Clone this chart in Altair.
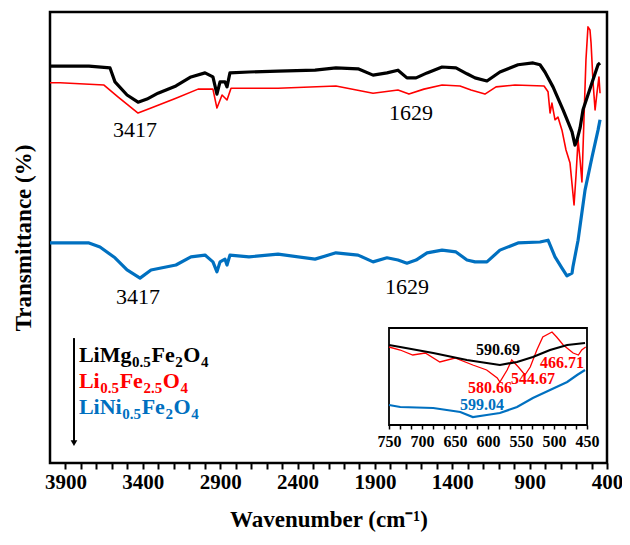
import altair as alt
import pandas as pd

# ---------------- main spectra (wavenumber cm-1, transmittance a.u.) ----------------
mg_wn = [4000, 3935, 3748, 3612, 3580, 3502, 3431, 3373, 3302, 3186, 3089, 2998, 2947, 2921, 2901,
         2869, 2856, 2837, 2714, 2526, 2287, 2152, 2009, 1912, 1822, 1751, 1693, 1634, 1563, 1466,
         1376, 1305, 1253, 1176, 1092, 975, 878, 833, 801, 749, 684, 626, 607, 594, 574, 555, 497,
         458, 445]
mg_t = [88.0, 88.0, 88.0, 87.6, 84.5, 81.6, 80.0, 80.7, 82.0, 83.6, 85.6, 86.5, 85.6, 81.8, 84.5,
        84.5, 83.4, 86.5, 86.7, 86.9, 87.1, 87.6, 87.4, 86.0, 86.5, 87.1, 85.4, 85.4, 86.5, 87.8,
        87.6, 86.3, 85.4, 84.7, 86.7, 88.3, 88.7, 88.3, 86.7, 83.4, 78.3, 73.4, 70.5, 71.6, 74.3,
        78.3, 84.3, 88.3, 88.7]

li_wn = [4000, 3935, 3651, 3561, 3431, 3347, 3186, 3043, 2947, 2921, 2888, 2856, 2830, 2526, 2152,
         1912, 1751, 1680, 1583, 1466, 1350, 1279, 1189, 1117, 995, 807, 781, 768, 756, 736, 717,
         691, 665, 639, 613, 600, 587, 574, 562, 549, 536, 523, 510, 503, 490, 477, 465, 452, 445]
li_t = [84.3, 84.3, 83.8, 81.2, 77.6, 78.7, 80.9, 82.9, 82.9, 78.7, 81.6, 80.5, 83.1, 83.1, 83.6,
        82.0, 82.7, 81.8, 82.9, 83.8, 83.6, 82.7, 81.8, 83.4, 83.8, 83.6, 82.3, 77.6, 79.8, 76.1, 76.7,
        73.8, 69.4, 66.5, 57.2, 63.9, 71.6, 67.2, 62.3, 76.1, 89.4, 96.7, 96.0, 93.1, 84.3, 78.3, 82.0,
        85.6, 82.0]

ni_wn = [4000, 3935, 3748, 3677, 3580, 3502, 3418, 3347, 3186, 3089, 2998, 2947, 2921, 2901, 2869,
         2856, 2837, 2714, 2526, 2287, 2152, 2009, 1912, 1822, 1751, 1693, 1634, 1563, 1466, 1376,
         1305, 1253, 1176, 1092, 975, 833, 781, 736, 691, 659, 626, 620, 587, 542, 497, 458, 445]
ni_t = [48.8, 48.8, 48.8, 47.9, 45.5, 42.8, 41.0, 42.8, 43.9, 45.7, 46.1, 44.6, 42.4, 44.6, 45.2,
        43.9, 46.1, 45.7, 46.3, 45.2, 46.6, 46.1, 44.6, 45.5, 45.0, 44.3, 45.0, 46.6, 47.2, 46.8,
        45.0, 44.6, 44.6, 47.2, 48.8, 49.0, 49.4, 45.7, 43.2, 41.5, 42.1, 43.5, 49.4, 60.5, 67.8,
        73.8, 76.1]

# ---------------- inset (750-450 cm-1) ----------------
in_mg_wn = [750, 733, 683, 632, 602, 582, 556, 532, 506, 480, 453]
in_mg_t = [80, 78, 72, 65, 62, 60, 63, 68, 75, 80, 82]
in_li_wn = [750, 733, 714, 695, 673, 650, 623, 602, 586, 582, 571, 564, 554, 544, 536, 526, 517,
            503, 496, 486, 471, 463, 458, 452]
in_li_t = [78, 75, 70, 72, 63, 67, 60, 55, 47, 43, 55, 65, 58, 50, 58, 75, 88, 93, 88, 80, 72, 70,
           75, 78]
in_ni_wn = [750, 733, 683, 642, 623, 602, 582, 556, 532, 506, 480, 465, 453]
in_ni_t = [20, 18, 17, 13, 8, 10, 12, 18, 27, 35, 43, 50, 55]

# ---------------- labels ----------------
# legend formulas as (text, is_subscript) pieces
series_pieces = [
    [("LiMg", False), ("0.5", True), ("Fe", False), ("2", True), ("O", False), ("4", True)],
    [("Li", False), ("0.5", True), ("Fe", False), ("2.5", True), ("O", False), ("4", True)],
    [("LiNi", False), ("0.5", True), ("Fe", False), ("2", True), ("O", False), ("4", True)],
]
series_colors = ["#000000", "#ff0000", "#0070c0"]

peak_labels = ["3417", "1629", "3417", "1629"]
peak_wn = [3451, 1667, 3431, 1693]
peak_t = [73.8, 77.6, 36.8, 39.0]

inset_labels = ["590.69", "580.66", "544.67", "466.71", "599.04"]
inset_lab_wn = [585, 597, 532, 488, 609]
inset_lab_t = [75, 37, 46, 62, 20]
inset_lab_col = ["#000000", "#ff0000", "#ff0000", "#ff0000", "#0070c0"]

legend_wn = [3813, 3813, 3813]
legend_t = [23.9, 18.2, 12.4]
arrow_wn = [3845]
arrow_top = [27.7]
arrow_bot = [4.4]

FONT = "Liberation Serif"
# Times/Liberation Serif Bold advance widths (per em) for laying out subscripts
BOLD_W = {"L": .667, "i": .278, "M": .944, "g": .5, "F": .611, "e": .444, "O": .778, "N": .722,
          ".": .25}
for d in "0123456789":
    BOLD_W[d] = .5
MAIN_FS, SUB_FS = 22, 15

# ---------------- main scales ----------------
xs = alt.Scale(domain=[4000, 400], nice=False, zero=False)
ys = alt.Scale(domain=[0, 100], nice=False, zero=False)
xaxis = alt.Axis(values=list(range(3900, 399, -100)),
                 labelExpr="datum.value % 500 == 400 ? format(datum.value, 'd') : ''",
                 title="Wavenumber (cm\u207b\u00b9)", grid=False, domain=False,
                 ticks=True, tickSize=6, tickWidth=2, tickColor="black",
                 labelFont=FONT, labelFontSize=21, labelFontWeight="bold", labelColor="black",
                 labelPadding=2, labelOverlap=False, labelFlush=False,
                 titleFont=FONT, titleFontSize=23, titleFontWeight="bold", titleColor="black",
                 titlePadding=16)
yaxis = alt.Axis(title="Transmittance (%)", labels=False, ticks=False, domain=False, grid=False,
                 titleFont=FONT, titleFontSize=23, titleFontWeight="bold", titleColor="black",
                 titlePadding=15)


def X(field):
    return alt.X(field, type="quantitative", scale=xs, axis=xaxis)


def Y(field):
    return alt.Y(field, type="quantitative", scale=ys, axis=yaxis)


def main_line(wn, t, color, width):
    df = pd.DataFrame({"wn": wn, "T": t, "order": range(len(wn))})
    return alt.Chart(df).mark_line(color=color, strokeWidth=width, strokeJoin="round").encode(
        x=X("wn"), y=Y("T"), order="order:Q")


red_line = main_line(li_wn, li_t, series_colors[1], 1.6)
black_line = main_line(mg_wn, mg_t, series_colors[0], 3.2)
blue_line = main_line(ni_wn, ni_t, series_colors[2], 3.2)

peaks_df = pd.DataFrame({"wn": peak_wn, "T": peak_t, "label": peak_labels})
peaks = alt.Chart(peaks_df).mark_text(font=FONT, fontSize=22, color="black").encode(
    x=X("wn"), y=Y("T"), text="label:N")

# legend: one text layer per formula piece, shifted by the piece widths
legend_layers = []
for i, pieces in enumerate(series_pieces):
    off = 0.0
    for txt, sub in pieces:
        fs = SUB_FS if sub else MAIN_FS
        df = pd.DataFrame({"wn": [legend_wn[i]], "T": [legend_t[i]], "label": [txt]})
        legend_layers.append(
            alt.Chart(df).mark_text(font=FONT, fontSize=fs, fontWeight="bold", align="left",
                                    baseline="alphabetic", color=series_colors[i],
                                    dx=off, dy=(12 if sub else 7)).encode(
                x=X("wn"), y=Y("T"), text="label:N"))
        off += sum(BOLD_W.get(c, .5) for c in txt) * fs + 0.6

arrow_df = pd.DataFrame({"wn": arrow_wn, "top": arrow_top, "bot": arrow_bot})
arrow_line = alt.Chart(arrow_df).mark_rule(color="black", strokeWidth=2).encode(
    x=X("wn"), y=Y("top"), y2="bot")
arrow_head = alt.Chart(arrow_df).mark_point(shape="triangle-down", filled=True, color="black",
                                            size=45, opacity=1).encode(x=X("wn"), y=Y("bot"))

main = alt.layer(red_line, black_line, blue_line, peaks, *legend_layers, arrow_line, arrow_head)

# ---------------- inset scales ----------------
ixs = alt.Scale(domain=[750, 450], range=[339, 537], nice=False, zero=False)
iys = alt.Scale(domain=[0, 97], range=[413, 316], nice=False, zero=False)
in_ticks = [750 - i * 50 / 3 for i in range(19)]
ixaxis = alt.Axis(orient="bottom", offset=-38, values=in_ticks,
                  labelExpr="abs(datum.value/50 - round(datum.value/50)) < 0.01 ? format(round(datum.value), 'd') : ''",
                  title=None, grid=False, domain=False, ticks=True, tickSize=4, tickWidth=1.5,
                  tickColor="black", labelFont=FONT, labelFontSize=16, labelFontWeight="bold",
                  labelColor="black", labelPadding=4, labelOverlap=False, labelFlush=False)


def IX(field):
    return alt.X(field, type="quantitative", scale=ixs, axis=ixaxis)


def IY(field):
    return alt.Y(field, type="quantitative", scale=iys, axis=None)


def inset_line(wn, t, color, width):
    df = pd.DataFrame({"wn": wn, "T": t, "order": range(len(wn))})
    return alt.Chart(df).mark_line(color=color, strokeWidth=width).encode(
        x=IX("wn"), y=IY("T"), order="order:Q")


frame_df = pd.DataFrame({"x1": [750], "x2": [450], "y1": [0], "y2": [97]})
inset_frame = alt.Chart(frame_df).mark_rect(fill="white", stroke="black", strokeWidth=1.8).encode(
    x=IX("x1"), x2="x2", y=IY("y1"), y2="y2")

ilab_df = pd.DataFrame({"wn": inset_lab_wn, "T": inset_lab_t, "label": inset_labels,
                        "col": inset_lab_col})
inset_text = alt.Chart(ilab_df).mark_text(font=FONT, fontSize=16, fontWeight="bold").encode(
    x=IX("wn"), y=IY("T"), text="label:N", color=alt.Color("col:N", scale=None))

inset = alt.layer(inset_frame,
                  inset_line(in_li_wn, in_li_t, series_colors[1], 1.3),
                  inset_line(in_mg_wn, in_mg_t, series_colors[0], 2.2),
                  inset_line(in_ni_wn, in_ni_t, series_colors[2], 2.2),
                  inset_text)

chart = alt.layer(main, inset).resolve_scale(x="independent", y="independent").properties(
    width=557, height=451,
    autosize=alt.AutoSizeParams(type="none"),
    padding={"left": 42, "top": 4, "right": 15, "bottom": 70},
    background="white",
).configure_view(stroke="black", strokeWidth=2.5)

chart.save("out.html", embed_options={"renderer": "svg", "actions": False})
